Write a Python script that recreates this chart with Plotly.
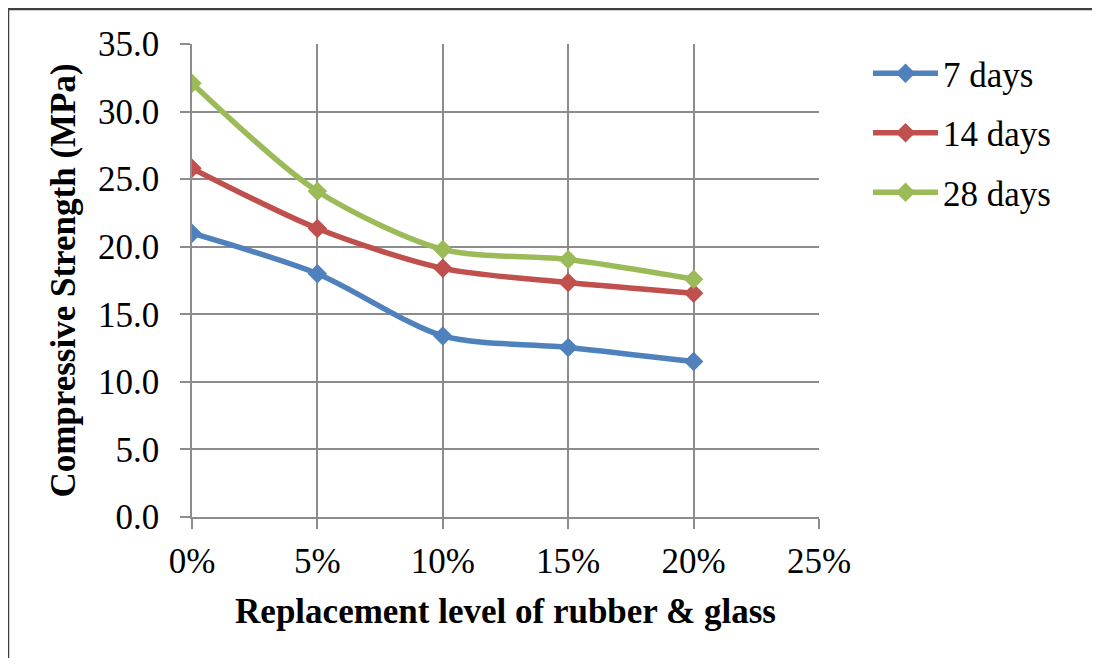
import plotly.graph_objects as go

x_levels = [0.00, 0.05, 0.10, 0.15, 0.20]
days7 = [21.0, 18.0, 13.4, 12.55, 11.5]
days14 = [25.8, 21.35, 18.4, 17.35, 16.55]
days28 = [32.1, 24.1, 19.8, 19.05, 17.6]
series_names = ["7 days", "14 days", "28 days"]
colors = ["#4F81BD", "#C0504D", "#9BBB59"]
y_ticks = [0, 5, 10, 15, 20, 25, 30, 35]
y_tick_text = ["0.0", "5.0", "10.0", "15.0", "20.0", "25.0", "30.0", "35.0"]
x_ticks = [0.00, 0.05, 0.10, 0.15, 0.20, 0.25]
x_tick_text = ["0%", "5%", "10%", "15%", "20%", "25%"]

FONT = "Liberation Serif, Times New Roman, serif"

# page offset of 8px (body margin) -> figure coords = screen - 8
W, H = 1084, 650
L, T, PW, PH = 184, 36, 627, 473

def px(xs):
    return (xs - 8 - L) / PW

def py(ys):
    return (T + PH - (ys - 8)) / PH

fig = go.Figure()
for i, (name, vals) in enumerate(zip(series_names, [days7, days14, days28])):
    fig.add_trace(go.Scatter(
        x=x_levels, y=vals, name=name, mode="lines+markers",
        line=dict(color=colors[i], width=5.5, shape="spline", smoothing=0.8),
        marker=dict(symbol="diamond", size=15, color=colors[i]),
        legendgroup=name,
    ))

fig.update_layout(
    width=W, height=H,
    margin=dict(l=L, r=W - L - PW, t=T, b=H - T - PH),
    paper_bgcolor="white", plot_bgcolor="white",
    font=dict(family=FONT, size=35, color="black"),
    showlegend=True,
    legend=dict(x=px(868), y=py(44), xanchor="left", yanchor="top",
                font=dict(family=FONT, size=35, color="black"),
                traceorder="grouped", tracegroupgap=11, itemwidth=65,
                bgcolor="rgba(0,0,0,0)"),
    xaxis=dict(
        range=[0, 0.25], tickvals=x_ticks, ticktext=x_tick_text,
        showgrid=True, gridcolor="#8C8C8C", gridwidth=1.5,
        showline=True, linecolor="#8C8C8C", linewidth=2,
        ticks="outside", ticklen=10, tickcolor="#8C8C8C", tickwidth=1.5,
        zeroline=False, ticklabelstandoff=2,
        tickfont=dict(family=FONT, size=35),
        title=dict(text="<b>Replacement level of rubber &amp; glass</b>",
                   font=dict(family=FONT, size=35), standoff=18),
    ),
    yaxis=dict(
        range=[0, 35], tickvals=y_ticks, ticktext=y_tick_text,
        showgrid=True, gridcolor="#8C8C8C", gridwidth=1.5,
        showline=True, linecolor="#8C8C8C", linewidth=1.5,
        ticks="outside", ticklen=10, tickcolor="#8C8C8C", tickwidth=1.5,
        zeroline=False, ticklabelstandoff=14,
        tickfont=dict(family=FONT, size=35),
        title=dict(text="<b>Compressive Strength (MPa)</b>",
                   font=dict(family=FONT, size=35), standoff=12),
    ),
    shapes=[
        dict(type="line", xref="paper", yref="paper",
             x0=px(8), x1=px(1092), y0=py(9), y1=py(9),
             line=dict(color="#404040", width=2.5)),
        dict(type="line", xref="paper", yref="paper",
             x0=px(8), x1=px(8), y0=py(9), y1=py(658),
             line=dict(color="#404040", width=2.5)),
    ],
)

fig.write_html("out.html", config={"displayModeBar": False})
